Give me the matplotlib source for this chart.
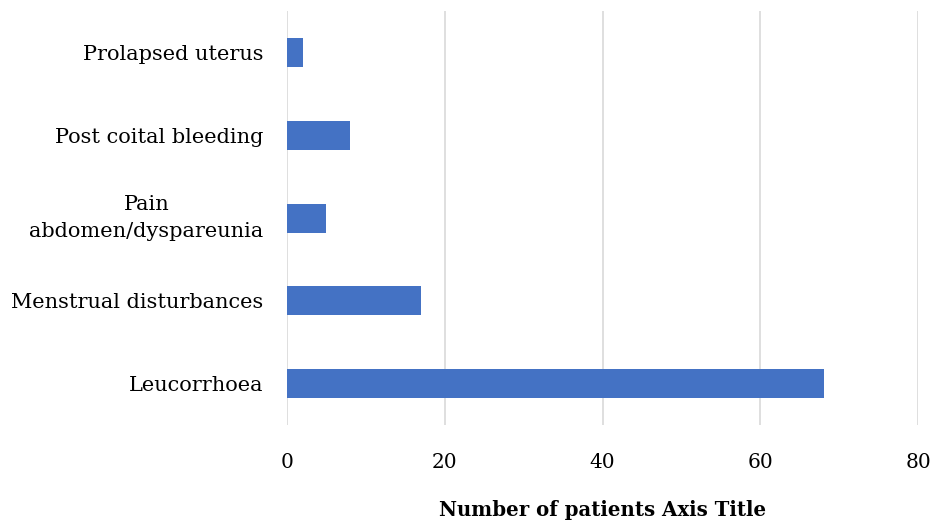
import matplotlib
matplotlib.use("Agg")
import matplotlib.pyplot as plt

categories = ["Leucorrhoea", "Menstrual disturbances", "Pain\nabdomen/dyspareunia",
              "Post coital bleeding", "Prolapsed uterus"]
values = [68, 17, 5, 8, 2]
xticks = [0, 20, 40, 60, 80]

plt.rcParams['font.family'] = ['DejaVu Serif']

fig = plt.figure(figsize=(9.35, 5.25), dpi=100)
ax = fig.add_axes([0.307, 0.19, 0.675, 0.789])
ax.barh(range(len(categories)), values, height=0.35, color="#4472C4", zorder=3)
ax.set_ylim(-0.5, len(categories) - 0.5)
ax.set_xlim(0, 80)
ax.set_xticks(xticks)
ax.set_yticks(range(len(categories)))
ax.set_yticklabels(categories, fontsize=15, ha='right', multialignment='center',
                   linespacing=1.5)
for lbl in ax.get_yticklabels():
    if "\n" in lbl.get_text():
        lbl.set_va('center')
ax.tick_params(axis='y', length=0, pad=17)
ax.tick_params(axis='x', length=0, pad=20, labelsize=14.5)
ax.xaxis.grid(True, color="#d9d9d9", linewidth=1.2, zorder=0)
for s in ax.spines.values():
    s.set_visible(False)
ax.set_xlabel("Number of patients Axis Title", fontsize=14.2, fontweight='bold', labelpad=20)
fig.savefig("out.png", dpi=100)
